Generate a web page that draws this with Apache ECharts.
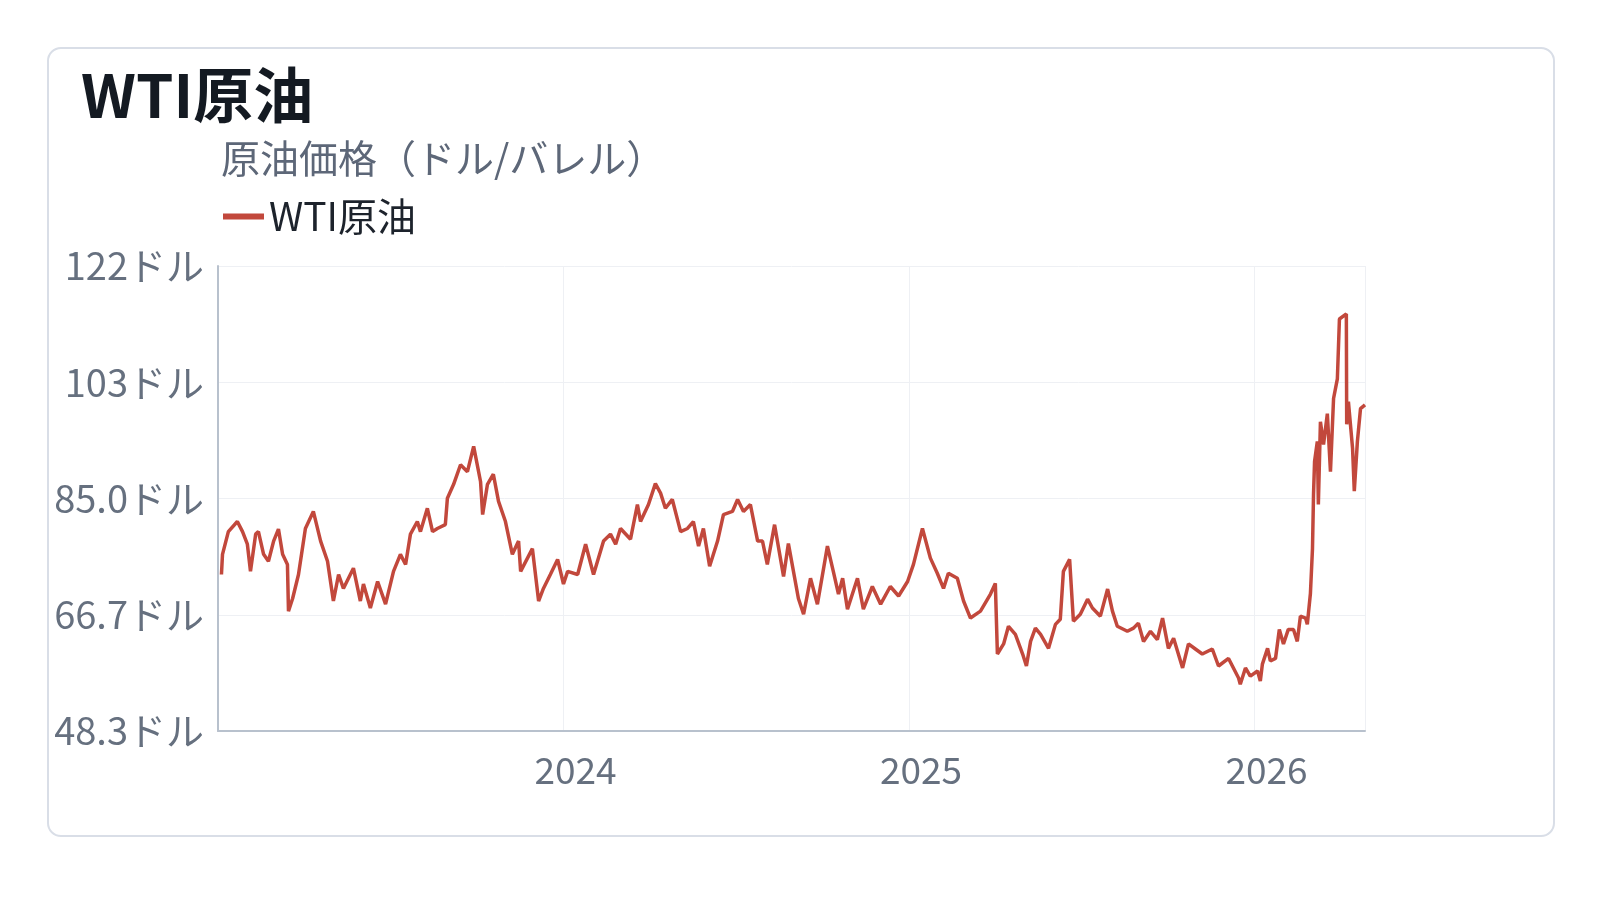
<!DOCTYPE html>
<html>
<head>
<meta charset="utf-8">
<script src="https://cdn.jsdelivr.net/npm/echarts@6/dist/echarts.min.js"></script>
<style>
  html, body { margin: 0; padding: 0; background: #fff; }
  #card { position: absolute; left: 47px; top: 47px; width: 1504px; height: 786px;
          border: 2px solid #d9dee7; border-radius: 14px; }
  #chart { position: absolute; left: 0; top: 0; width: 1600px; height: 900px; }
</style>
</head>
<body>
<div id="card"></div>
<div id="chart"></div>
<script>
// positions in decimal years, prices in USD/bbl
const yearPos = [
  2023.010, 2023.013, 2023.030, 2023.056, 2023.071, 2023.085, 2023.094, 2023.109, 2023.117, 2023.132,
  2023.146, 2023.161, 2023.175, 2023.187, 2023.201, 2023.204, 2023.216, 2023.233, 2023.253, 2023.276,
  2023.297, 2023.317, 2023.334, 2023.349, 2023.363, 2023.392, 2023.412, 2023.421, 2023.441, 2023.462,
  2023.485, 2023.508, 2023.528, 2023.543, 2023.557, 2023.577, 2023.586, 2023.606, 2023.621, 2023.635,
  2023.658, 2023.664, 2023.682, 2023.702, 2023.722, 2023.740, 2023.760, 2023.766, 2023.780, 2023.797,
  2023.812, 2023.832, 2023.852, 2023.870, 2023.876, 2023.910, 2023.928, 2023.942, 2023.962, 2023.983,
  2024.000, 2024.012, 2024.041, 2024.064, 2024.087, 2024.116, 2024.136, 2024.151, 2024.165, 2024.194,
  2024.214, 2024.223, 2024.246, 2024.266, 2024.281, 2024.295, 2024.315, 2024.339, 2024.359, 2024.376,
  2024.391, 2024.405, 2024.423, 2024.446, 2024.463, 2024.489, 2024.504, 2024.521, 2024.541, 2024.562,
  2024.576, 2024.590, 2024.611, 2024.637, 2024.651, 2024.680, 2024.695, 2024.715, 2024.735, 2024.764,
  2024.781, 2024.796, 2024.808, 2024.822, 2024.851, 2024.868, 2024.894, 2024.918, 2024.946, 2024.970,
  2024.996, 2025.013, 2025.039, 2025.062, 2025.082, 2025.100, 2025.114, 2025.140, 2025.158, 2025.178,
  2025.207, 2025.236, 2025.250, 2025.256, 2025.274, 2025.288, 2025.308, 2025.329, 2025.340, 2025.352,
  2025.366, 2025.381, 2025.404, 2025.424, 2025.438, 2025.447, 2025.465, 2025.476, 2025.496, 2025.517,
  2025.531, 2025.554, 2025.575, 2025.589, 2025.603, 2025.632, 2025.650, 2025.664, 2025.679, 2025.699,
  2025.719, 2025.734, 2025.751, 2025.766, 2025.792, 2025.809, 2025.829, 2025.849, 2025.878, 2025.896,
  2025.925, 2025.954, 2025.959, 2025.974, 2025.988, 2026.009, 2026.017, 2026.023, 2026.038, 2026.046,
  2026.061, 2026.072, 2026.084, 2026.098, 2026.113, 2026.124, 2026.133, 2026.148, 2026.153, 2026.162,
  2026.168, 2026.171, 2026.174, 2026.182, 2026.185, 2026.191, 2026.200, 2026.211, 2026.220, 2026.229,
  2026.240, 2026.246, 2026.266, 2026.267, 2026.272, 2026.284, 2026.289, 2026.298, 2026.307, 2026.320
];
const prices = [
  73.1, 76.3, 79.9, 81.5, 79.9, 77.9, 73.6, 79.5, 79.9, 76.3,
  75.2, 78.4, 80.3, 76.3, 74.7, 67.3, 69.3, 73.1, 80.4, 83.1,
  78.4, 75.2, 68.9, 73.1, 70.9, 74.1, 68.9, 71.6, 67.8, 72.0,
  68.4, 73.6, 76.3, 74.7, 79.5, 81.5, 79.9, 83.6, 79.9, 80.4,
  81.0, 85.2, 87.4, 90.5, 89.4, 93.4, 87.8, 82.6, 87.4, 89.0,
  84.7, 81.5, 76.3, 78.4, 73.6, 77.2, 68.9, 70.9, 73.1, 75.5,
  71.6, 73.6, 73.1, 77.9, 73.1, 78.4, 79.5, 77.9, 80.4, 78.7,
  84.2, 81.5, 84.2, 87.5, 86.0, 83.6, 85.0, 79.9, 80.4, 81.5,
  77.6, 80.4, 74.4, 78.4, 82.6, 83.1, 85.0, 83.1, 84.2, 78.4,
  78.4, 74.7, 81.0, 72.8, 78.0, 69.3, 66.8, 72.5, 68.4, 77.6,
  73.6, 70.0, 72.5, 67.6, 72.5, 67.6, 71.2, 68.4, 71.2, 69.7,
  72.0, 74.7, 80.4, 75.7, 73.3, 70.9, 73.3, 72.5, 68.9, 66.2,
  67.3, 70.0, 71.7, 60.5, 62.1, 64.9, 63.6, 60.5, 58.6, 62.5,
  64.6, 63.6, 61.4, 65.2, 66.0, 73.6, 75.5, 65.7, 66.8, 69.2,
  67.8, 66.5, 70.8, 67.3, 64.9, 64.1, 64.6, 65.4, 62.5, 64.1,
  62.8, 66.2, 61.4, 63.0, 58.3, 62.1, 61.3, 60.5, 61.3, 58.6,
  59.8, 56.7, 55.7, 58.3, 57.0, 57.8, 56.2, 58.9, 61.4, 59.4,
  59.8, 64.4, 62.1, 64.4, 64.4, 62.5, 66.5, 66.2, 65.2, 70.1,
  77.2, 85.8, 91.0, 94.2, 84.2, 97.3, 93.7, 98.6, 89.4, 101.0,
  104.1, 113.6, 114.4, 96.9, 100.5, 93.1, 86.3, 94.2, 99.4, 100.0
];
const yTickLabels = ['48.3ドル', '66.7ドル', '85.0ドル', '103ドル', '122ドル'];
const yearLabels = ['', '2024', '2025', '2026'];

const fontJP = '"Noto Sans CJK JP", "Noto Sans", sans-serif';
let chart = echarts.init(document.getElementById('chart'), null, { renderer: 'canvas' });

const seriesData = yearPos.map((t, i) => [t, prices[i]]);

option = {
    backgroundColor: 'transparent',
    textStyle: { fontFamily: fontJP },
    title: [
        {
            text: 'WTI原油',
            left: 76, top: 60,
            textStyle: { fontSize: 60, fontWeight: 'bold', color: '#141a22', fontFamily: fontJP }
        },
        {
            text: '原油価格（ドル/バレル）',
            left: 216, top: 134,
            textStyle: { fontSize: 39, fontWeight: 'normal', color: '#5d6778', fontFamily: fontJP }
        }
    ],
    legend: {
        left: 218, top: 192,
        icon: 'rect',
        itemWidth: 41, itemHeight: 6, itemGap: 10,
        textStyle: { fontSize: 39, color: '#1d232c', fontFamily: fontJP },
        data: ['WTI原油']
    },
    grid: { left: 218, right: 235, top: 266, bottom: 169, containLabel: false },
    xAxis: {
        type: 'value',
        min: 2023, max: 2026.32, interval: 1,
        axisLine: { show: true, lineStyle: { color: '#b8c1cd', width: 2 } },
        axisTick: { show: false },
        splitLine: { show: true, lineStyle: { color: '#eef0f4', width: 1 } },
        axisLabel: {
            fontSize: 37, color: '#66707f', margin: 20, padding: [0, 0, 0, 24],
            showMaxLabel: false,
            formatter: v => Number.isInteger(v) ? (yearLabels[v - 2023] || '') : ''
        }
    },
    yAxis: {
        type: 'value',
        min: 48.3, max: 122, interval: 18.425,
        axisLine: { show: true, lineStyle: { color: '#b8c1cd', width: 2 } },
        axisTick: { show: false },
        splitLine: { show: true, lineStyle: { color: '#eef0f4', width: 1 } },
        axisLabel: {
            fontSize: 38, color: '#66707f', margin: 14,
            formatter: v => yTickLabels[Math.round((v - 48.3) / 18.425)]
        }
    },
    series: [
        {
            name: 'WTI原油',
            type: 'line',
            data: seriesData,
            showSymbol: false,
            color: '#c2483c',
            lineStyle: { width: 3.5, color: '#c2483c' },
            clip: true,
            animation: false
        }
    ]
};
chart.setOption(option);
</script>
</body>
</html>
